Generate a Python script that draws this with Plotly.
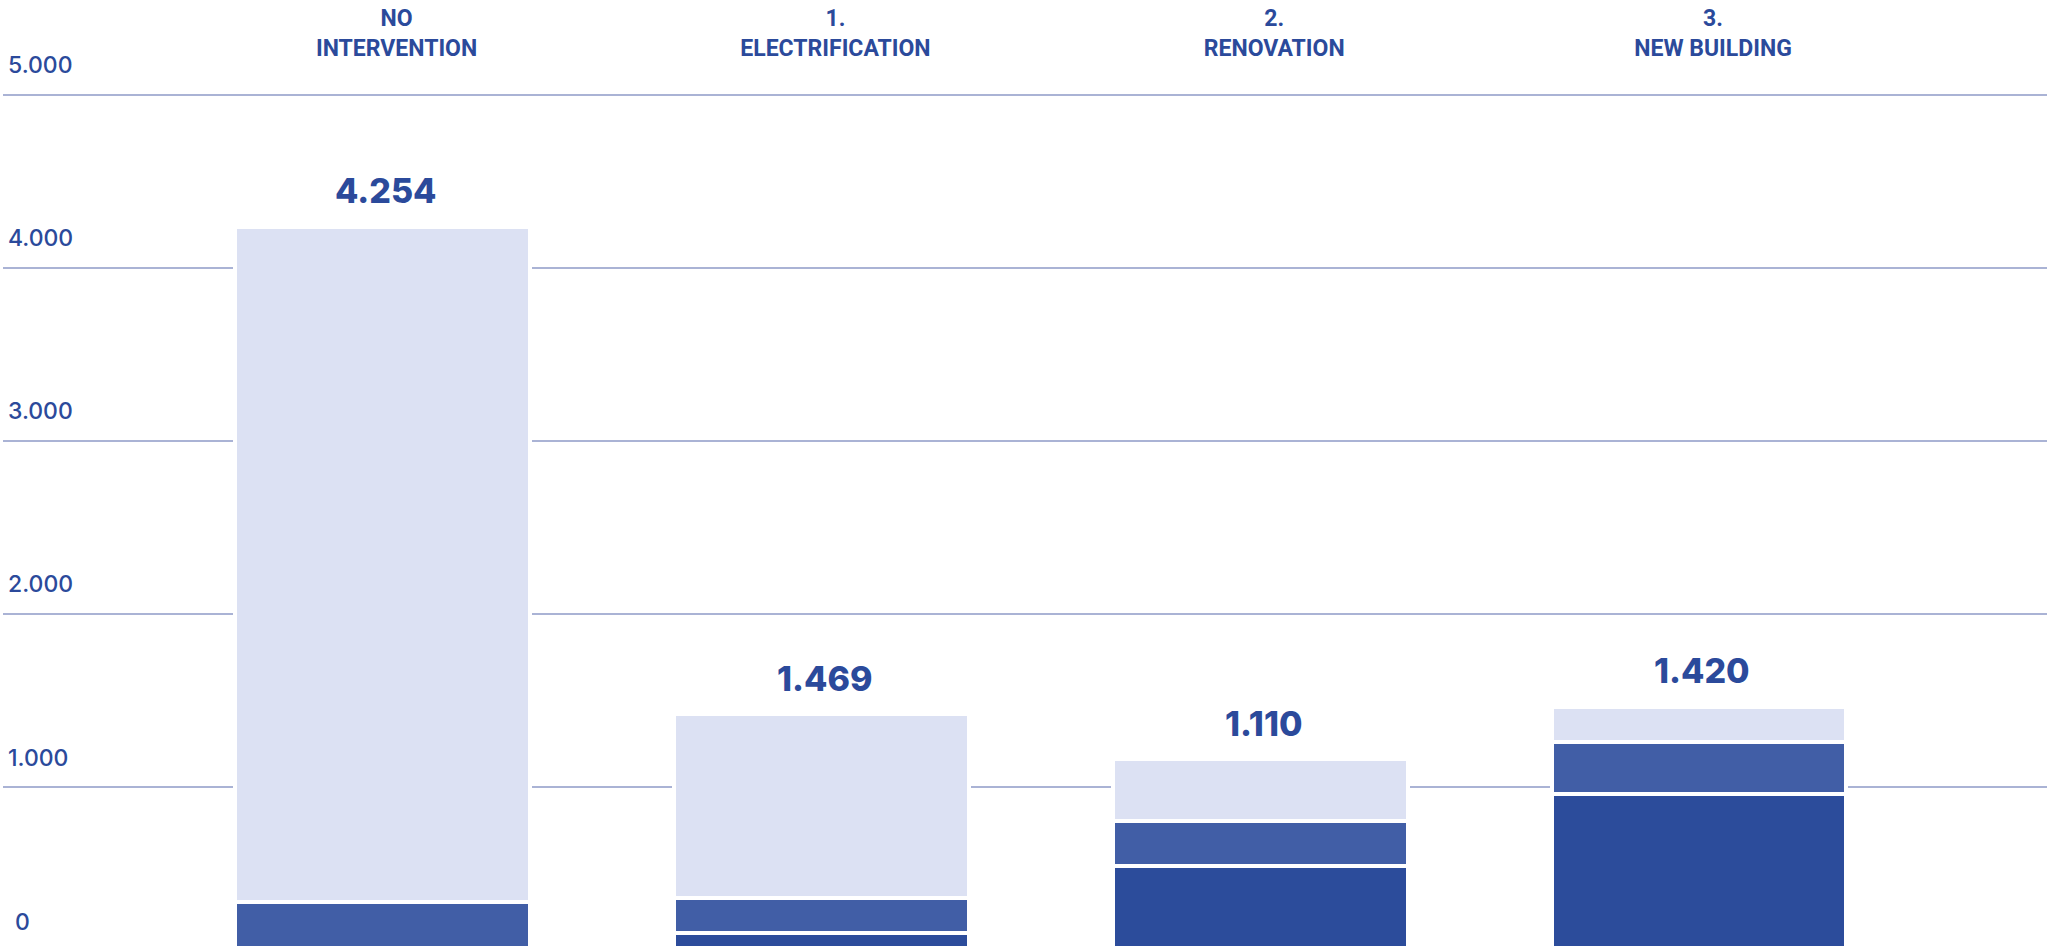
import plotly.graph_objects as go

# ---- data ----
categories = ["NO<br>INTERVENTION", "1.<br>ELECTRIFICATION", "2.<br>RENOVATION", "3.<br>NEW BUILDING"]
dark_values = [0, 162, 546, 962]
mid_values = [340, 199, 263, 301]
light_values = [3900, 1063, 355, 202]
total_labels = ["4.254", "1.469", "1.110", "1.420"]
y_tick_values = [1000, 2000, 3000, 4000, 5000]
y_tick_labels = ["1.000", "2.000", "3.000", "4.000", "5.000"]
zero_label = "0"

# ---- styles ----
DARK = "#2C4C9B"
MID = "#415EA6"
LIGHT = "#DCE1F3"
TEXT = "#2B4A9B"
GRID = "#AAB3D5"
BAR_W = 0.672

fig = go.Figure()
for vals, col in [(dark_values, DARK), (mid_values, MID), (light_values, LIGHT)]:
    fig.add_bar(
        x=categories, y=vals, width=BAR_W,
        marker=dict(color=col, line=dict(color="white", width=4)),
        hoverinfo="skip",
    )

for cat, d, m, l, lab in zip(categories, dark_values, mid_values, light_values, total_labels):
    fig.add_annotation(
        x=cat, y=d + m + l, text=lab, showarrow=False,
        yanchor="middle", yshift=36, xshift=3,
        font=dict(family="Inter, Roboto, sans-serif", size=34, color=TEXT, weight=800),
    )

fig.add_annotation(
    xref="paper", yref="paper", x=0, y=0, xanchor="left", yanchor="middle",
    xshift=10, yshift=24, text=zero_label, showarrow=False,
    font=dict(family="Inter, Roboto, sans-serif", size=23, color=TEXT, weight=500),
)

fig.update_layout(
    width=2047, height=946,
    margin=dict(l=3, r=0, t=70, b=0),
    plot_bgcolor="white", paper_bgcolor="white",
    showlegend=False, barmode="stack",
    xaxis=dict(
        type="category", side="top", range=[-0.865, 3.793], automargin=False,
        showgrid=False, showline=False, zeroline=False, ticks="",
        tickfont=dict(family="Roboto, sans-serif", size=23, color=TEXT, weight="bold"),
        ticklabelstandoff=8, ticklabelshift=14,
    ),
    yaxis=dict(
        range=[84, 5145], tickvals=y_tick_values, ticktext=y_tick_labels,
        automargin=False,
        showgrid=True, gridcolor=GRID, gridwidth=2,
        zeroline=False, showline=False, ticks="",
        ticklabelposition="inside", ticklabeloverflow="allow",
        ticklabelshift=-30, ticklabelstandoff=2,
        tickfont=dict(family="Inter, Roboto, sans-serif", size=23, color=TEXT, weight=500),
    ),
)

fig.write_html(
    "out.html",
    config={"displayModeBar": False},
    post_script="document.body.style.margin='0px';",
)
